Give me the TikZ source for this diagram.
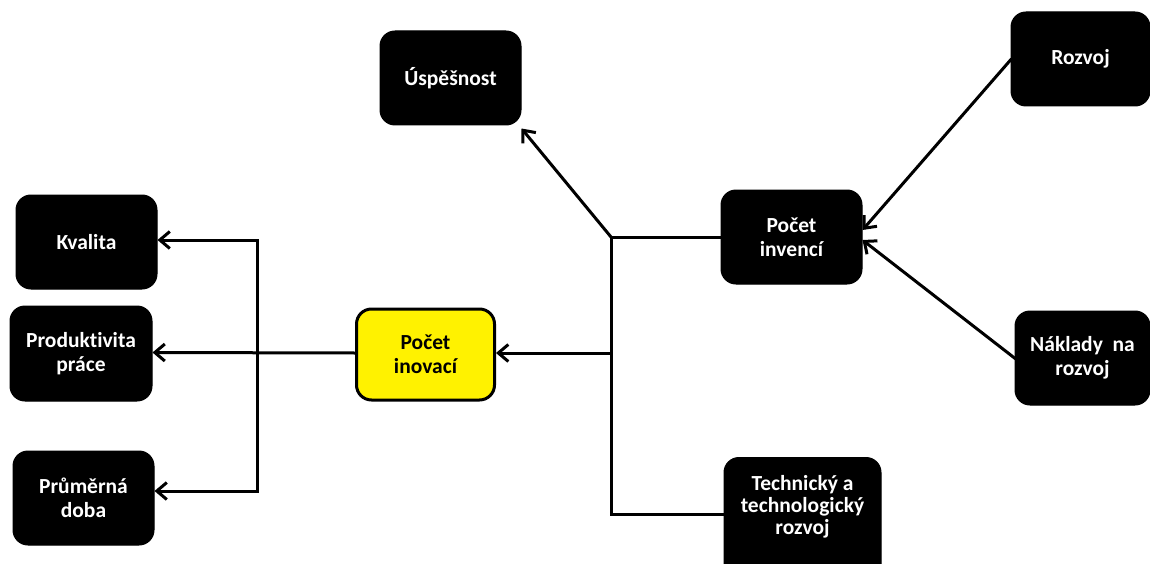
\documentclass[tikz,border=0pt]{standalone}
\usepackage{fontspec}
\setmainfont{Carlito}[Ligatures=NoCommon]
\usetikzlibrary{arrows.meta}

\tikzset{
  blk/.style={draw=black, fill=black, text=white, rounded corners=15pt,
    line width=1pt, inner sep=0pt, align=center,
    font=\fontsize{21.5}{24}\selectfont\bfseries},
  hub/.style={blk, fill=yellow, text=black, line width=3pt},
  link/.style={line width=3pt, line cap=rect},
  arr/.style={link, -{Straight Barb[length=10pt,width=17pt,line width=3pt]}},
}

\begin{document}
\begin{tikzpicture}[x=1pt, y=-1pt]
\useasboundingbox (0,0) rectangle (1150,564);

% boxes
\node[blk, minimum width=141pt, minimum height=94pt] (usp) at (450.5,78) {Úspěšnost};
\node[blk, minimum width=139pt, minimum height=94pt] (rozvoj) at (1080.5,59) {Rozvoj};
\node[blk, minimum width=141pt, minimum height=94pt] (invenci) at (791.5,237) {Počet\\invencí};
\node[blk, minimum width=135pt, minimum height=94pt] (naklady) at (1082.5,358) {Náklady~ na\\rozvoj};
\node[blk, minimum width=141pt, minimum height=94pt] (kvalita) at (86.5,242) {Kvalita};
\node[blk, minimum width=142pt, minimum height=95pt] (produkt) at (81,353.5) {Produktivita\\práce};
\node[blk, minimum width=141pt, minimum height=94pt] (prumer) at (83.5,498) {Průměrná\\doba};
\node[hub, minimum width=138pt, minimum height=91pt] (inovaci) at (425.5,354.5) {Počet\\inovací};
\node[blk, anchor=north, minimum width=157pt, minimum height=124pt,
      label={[font=\fontsize{21.5}{22}\selectfont\bfseries, text=white, align=center, yshift=13pt]center:Technický a\\technologický\\rozvoj}]
      (tech) at (802.5,457) {};

% junctions of the right-hand tree
\coordinate (j1) at (611,237);
\coordinate (j2) at (611,353);
\coordinate (j3) at (611,514);
% junctions of the left-hand tree
\coordinate (k1) at (257,240);
\coordinate (k2) at (257,491);

% right-hand tree
\draw[link] (invenci.west) -- (j1) -- (j3) -- (j3 -| tech.west);
\draw[arr] (j1) -- ([yshift=-3pt]usp.south east);
\draw[arr] (j2) -- (j2 -| inovaci.east);

% causes of inventions
\draw[arr] ([yshift=-1pt]rozvoj.west) -- ([yshift=7pt]invenci.east);
\draw[arr] (naklady.west) -- ([yshift=-3pt]invenci.east);

% left-hand tree
\draw[arr] ([yshift=1.5pt]inovaci.west) -- ([yshift=1pt]produkt.east);
\draw[link] (k1) -- (k2);
\draw[arr] (k1) -- (k1 -| kvalita.east);
\draw[arr] (k2) -- (k2 -| prumer.east);
\end{tikzpicture}
\end{document}
